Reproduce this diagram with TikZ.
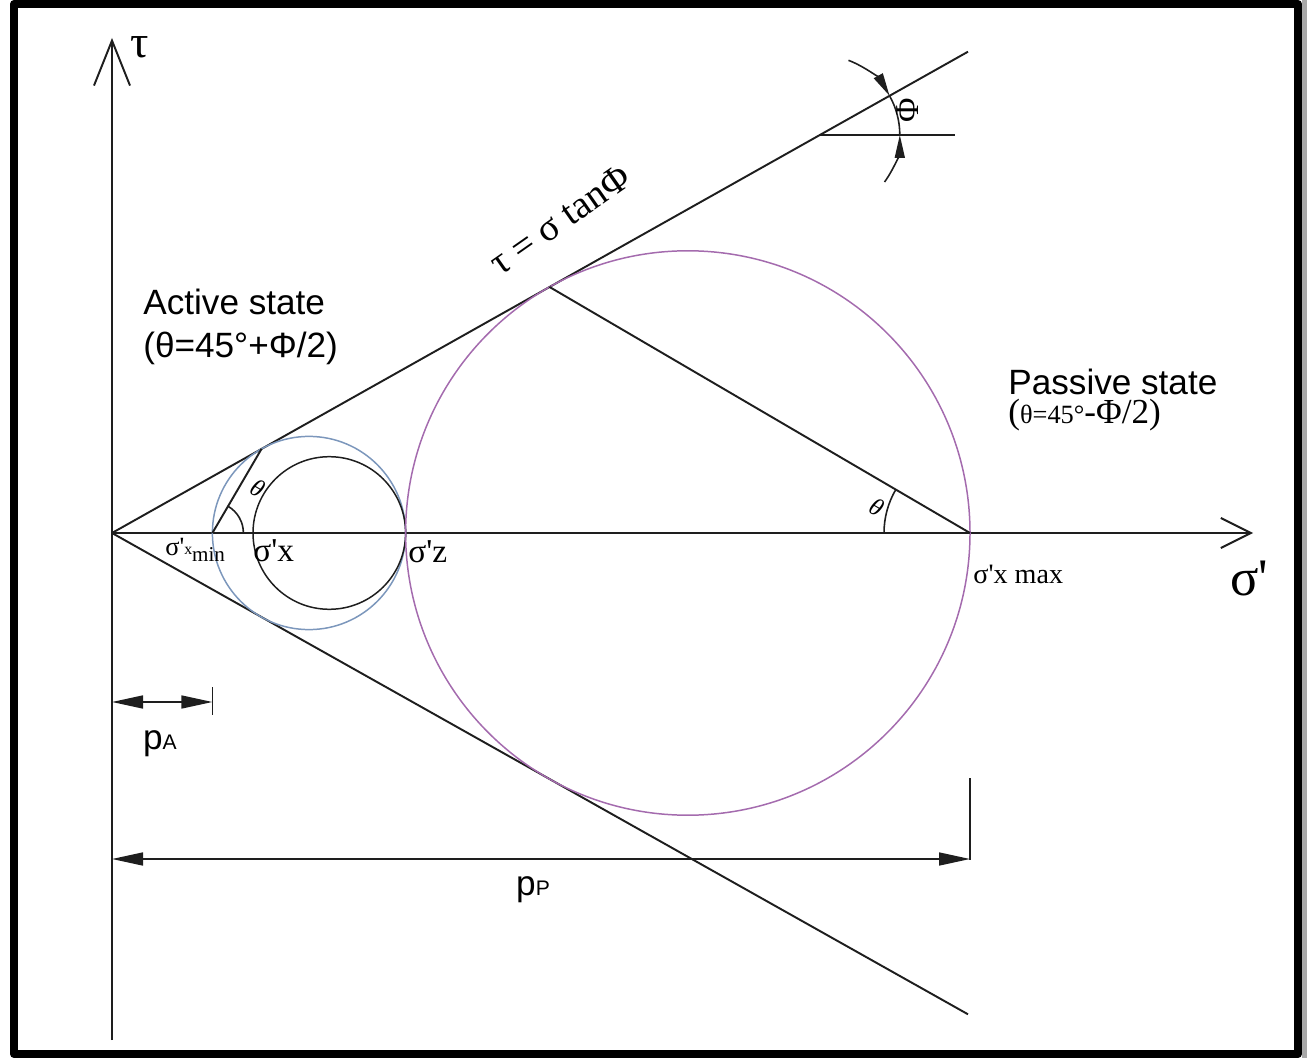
\documentclass[tikz,border=0pt]{standalone}
\usepackage{fontspec}
\setmainfont{Liberation Serif}[Ligatures=TeXOff]
\newfontfamily\labelsans{Liberation Sans}
\usetikzlibrary{arrows.meta,calc}
\definecolor{EnvelopeInk}{HTML}{1E1E1E}
\definecolor{ActiveBlue}{HTML}{7C97BC}
\definecolor{PassivePlum}{HTML}{A46BAE}
\definecolor{FrameShade}{HTML}{A8A8A8}

\begin{document}
\begin{tikzpicture}[
 x=0.2mm,y=0.2mm,
 line join=round,
 axisline/.style={draw=EnvelopeInk,line width=1.1pt},
 envline/.style={draw=EnvelopeInk,line width=1.1pt},
 circ/.style={line width=.85pt},
 anglemark/.style={draw=EnvelopeInk,line width=.9pt},
 dimline/.style={draw=EnvelopeInk,line width=.9pt},
 dimtip/.style={{Triangle[length=6.2mm,width=2.6mm]}-{Triangle[length=6.2mm,width=2.6mm]}},
 phitip/.style={-{Triangle[length=4.6mm,width=2mm]}},
 sanslabel/.style={font=\labelsans\fontsize{20}{24}\selectfont,anchor=west,inner sep=0pt},
 seriflabel/.style={font=\fontsize{19}{22}\selectfont,anchor=west,inner sep=0pt}
]
 \useasboundingbox (-112,-525) rectangle (1195,533);
 % frame
 \fill[FrameShade] (1190,533) rectangle (1195,-525);
 \draw[line width=4.55pt] (-98,529) rectangle (1186,-521);

 % key points
 \coordinate (O) at (0,0);
 \coordinate (tauTop) at (0,495);
 \coordinate (tauBot) at (0,-507);
 \coordinate (sigEnd) at (1141,0);
 \coordinate (envUp) at (856,481.3);
 \coordinate (envLow) at (856,-481.3);
 \coordinate (xmin) at (100.4,0);
 \coordinate (xmax) at (858,0);
 \coordinate (tanA) at (149.6,84.2);
 \coordinate (tanP) at (437.4,246.1);
 \coordinate (phiV) at (707.8,398);
 \coordinate (phiH) at (843,398);

 % axes
 \draw[axisline,-{Straight Barb[length=9mm,width=7.2mm]}] (tauBot)--(tauTop);
 \draw[axisline,-{Straight Barb[length=6mm,width=6mm]}] (O)--(sigEnd);

 % failure envelope
 \draw[envline] (O)--(envUp);
 \draw[envline] (O)--(envLow);

 % Mohr circles
 \draw[circ,draw=ActiveBlue] (197,0) circle (96.6);
 \draw[circ,draw=EnvelopeInk] (217.3,0) circle (76.3);
 \draw[circ,draw=PassivePlum] (575.8,0) circle (282.2);

 % pole lines and angles
 \draw[envline] (xmin)--(tanA);
 \draw[envline] (xmax)--(tanP);
 \draw[anglemark] ($(xmin)+(31,0)$) arc (0:59.7:31);
 \draw[anglemark] ($(xmax)+(-86,0)$) arc (180:149.7:86);
 \node[font=\itshape\fontsize{14}{16}\selectfont,rotate=-30] (thA) at (146,45) {θ};
 \node[font=\itshape\fontsize{14}{16}\selectfont,rotate=-30] (thP) at (765,26) {θ};

 % friction angle
 \draw[envline] (phiV)--(phiH);
 \draw[anglemark,phitip] ($(phiV)+(69:80)$) arc (69:29.35:80);
 \draw[anglemark] ($(phiV)+(29.35:80)$) arc (29.35:0:80);
 \draw[anglemark,phitip] ($(phiV)+(-36:80)$) arc (-36:0:80);
 \node[font=\fontsize{19}{22}\selectfont,rotate=90] (phiLbl) at (796,423) {Φ};

 % labels
 \node[font=\fontsize{26}{30}\selectfont] (tauLbl) at (28,486) {τ};
 \node[font=\fontsize{30}{34}\selectfont] (sigLbl) at (1137,-45) {σ'};
 \node[font=\fontsize{22}{26}\selectfont,rotate=35] (envLbl) at (448,313) {τ = σ tanΦ};
 \node[sanslabel] (actLbl) at (31,231) {Active state};
 \node[sanslabel] (actTh) at (31,185) {(θ=45°+Φ/2)};
 \node[sanslabel] (pasLbl) at (896,151) {Passive state};
 \node[seriflabel,font=\fontsize{20}{24}\selectfont] (pasTh) at (896,118)
   {({\fontsize{15}{18}\selectfont θ=45°}-Φ/2)};
 \node[seriflabel,font=\fontsize{15}{18}\selectfont] (xminLbl) at (53,-17)
   {σ'\raisebox{1pt}{\fontsize{9}{10}\selectfont x}\raisebox{-3pt}{\fontsize{12}{13}\selectfont min}};
 \node[seriflabel] (xLbl) at (141,-18) {σ'x};
 \node[seriflabel] (zLbl) at (296,-19) {σ'z};
 \node[seriflabel,font=\fontsize{16}{18}\selectfont] (xmaxLbl) at (861,-41) {σ'x max};

 % dimensions
 \coordinate (pAl) at (0,-169);
 \coordinate (pAr) at (100.4,-169);
 \coordinate (pPl) at (0,-326);
 \coordinate (pPr) at (858,-326);
 \draw[dimline,dimtip] (pAl)--(pAr);
 \draw[dimline] (100.4,-154)--(100.4,-182);
 \draw[dimline,dimtip] (pPl)--(pPr);
 \draw[dimline] (858,-245)--(858,-327);
 \node[font=\labelsans\fontsize{20}{24}\selectfont] (pALbl) at (48,-211)
   {p{\fontsize{12}{14}\selectfont A}};
 \node[font=\labelsans\fontsize{20}{24}\selectfont] (pPLbl) at (421,-357)
   {p{\fontsize{12}{14}\selectfont P}};
\end{tikzpicture}
\end{document}
